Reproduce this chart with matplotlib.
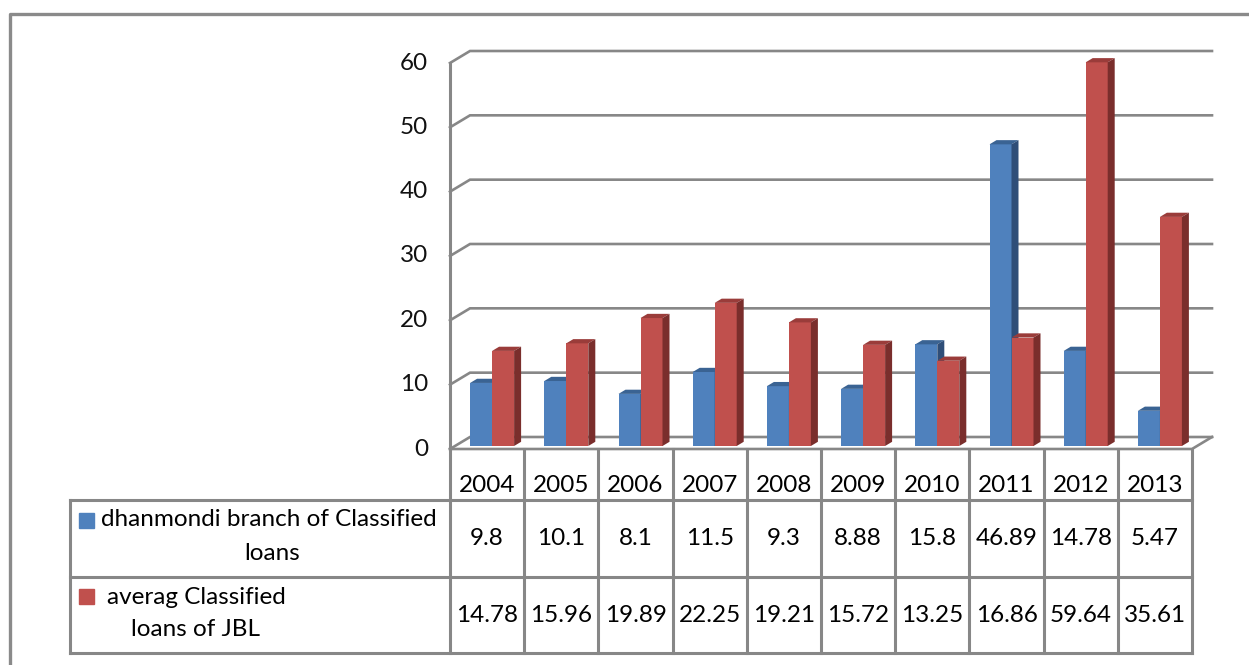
import matplotlib.pyplot as plt
import matplotlib.transforms as mtransforms
from matplotlib.patches import Polygon, Rectangle

years = ["2004", "2005", "2006", "2007", "2008", "2009", "2010", "2011", "2012", "2013"]
branch = [9.8, 10.1, 8.1, 11.5, 9.3, 8.88, 15.8, 46.89, 14.78, 5.47]
jbl = [14.78, 15.96, 19.89, 22.25, 19.21, 15.72, 13.25, 16.86, 59.64, 35.61]
branch_text = ["9.8", "10.1", "8.1", "11.5", "9.3", "8.88", "15.8", "46.89", "14.78", "5.47"]
jbl_text = ["14.78", "15.96", "19.89", "22.25", "19.21", "15.72", "13.25", "16.86", "59.64", "35.61"]
branch_label = ["dhanmondi branch of Classified", "loans"]
jbl_label = ["averag Classified", "loans of JBL"]
yticks = [0, 10, 20, 30, 40, 50, 60]

plt.rcParams["font.family"] = ["Lato", "DejaVu Sans"]
FS = 17.5

blue = ("#4F81BD", "#3A6393", "#2F4E78")
red = ("#C0504D", "#9A3C3A", "#7A2E2C")
grid = "#878787"

W, H = 1249, 665
fig = plt.figure(figsize=(W / 100, H / 100), dpi=100)

# background axes in pixel units for frame and table
bg = fig.add_axes([0, 0, 1, 1])
bg.set_xlim(0, W)
bg.set_ylim(H, 0)
bg.axis("off")

# front plane of the 3D plot
X0, X1, Y0, Y60 = 450, 1192, 449, 63
ax = fig.add_axes([X0 / W, 1 - Y0 / H, (X1 - X0) / W, (Y0 - Y60) / H])
ax.set_xlim(-0.5, len(years) - 0.5)
ax.set_ylim(0, 60)
ax.axis("off")
pxx = (X1 - X0) / len(years)
pxy = (Y0 - Y60) / 60.0


def off(dx, dy):
    return dx / pxx, dy / pxy


wdx, wdy = off(20, 12)   # back wall
ox, oy = off(5, 3)       # bar front face
ddx, ddy = off(7, 4.2)   # bar depth
xl, xr = -0.5, len(years) - 0.5

# walls / gridlines
for v in yticks:
    ax.plot([xl, xl + wdx, xr + wdx], [v, v + wdy, v + wdy], color=grid, lw=1.9,
            clip_on=False, zorder=1, solid_joinstyle="miter")
ax.plot([xl, xl], [0, 60], color=grid, lw=2.2, clip_on=False, zorder=1)
ax.plot([xl, xr, xr + wdx], [0, 0, wdy], color=grid, lw=1.9, clip_on=False, zorder=1,
        solid_joinstyle="miter")

for v in yticks:
    ax.text(xl - 22 / pxx, v, str(v), ha="right", va="center", fontsize=FS, color="#111111")


def bar3d(x, w, h, cols, z):
    x = x + ox
    ax.bar(x, h, width=w, bottom=oy, align="edge", color=cols[0], zorder=z, clip_on=False,
           linewidth=0)
    top = [(x, oy + h), (x + ddx, oy + h + ddy), (x + w + ddx, oy + h + ddy), (x + w, oy + h)]
    side = [(x + w, oy), (x + w + ddx, oy + ddy), (x + w + ddx, oy + h + ddy), (x + w, oy + h)]
    ax.add_patch(Polygon(top, closed=True, color=cols[1], zorder=z, clip_on=False, lw=0))
    ax.add_patch(Polygon(side, closed=True, color=cols[2], zorder=z, clip_on=False, lw=0))


bw = 22 / pxx
for i in range(len(years)):
    bar3d(i - bw, bw, branch[i], blue, 3)
    bar3d(i, bw, jbl[i], red, 4)

# data table
tr = mtransforms.blended_transform_factory(ax.transData, bg.transData)
r0, r1, r2, r3 = Y0, 500, 577, 653
tl = 70
lk = dict(color=grid, lw=2.2, solid_capstyle="projecting", clip_on=False)
for y in (r1, r2, r3):
    bg.plot([tl, X1], [y, y], **lk)
bg.plot([tl, tl], [r1, r3], **lk)
for i in range(len(years) + 1):
    ax.plot([i - 0.5, i - 0.5], [r0, r3], transform=tr, **lk)

for i in range(len(years)):
    ax.text(i, 486, years[i], transform=tr, ha="center", va="center", fontsize=FS)
    ax.text(i, (r1 + r2) / 2, branch_text[i], transform=tr, ha="center", va="center", fontsize=FS)
    ax.text(i, (r2 + r3) / 2, jbl_text[i], transform=tr, ha="center", va="center", fontsize=FS)

bg.add_patch(Rectangle((79, 513), 15, 15, color=blue[0]))
bg.add_patch(Rectangle((79, 589), 15, 15, color=red[0]))
bg.text(101, 520, branch_label[0], ha="left", va="center", fontsize=FS)
bg.text(272, 553, branch_label[1], ha="center", va="center", fontsize=FS)
bg.text(107, 597, jbl_label[0], ha="left", va="center", fontsize=FS)
bg.text(131, 630, jbl_label[1], ha="left", va="center", fontsize=FS)

# outer chart frame
bg.plot([10, 10, W], [H, 14, 14], color="#8a8a8a", lw=2.4)

fig.savefig("out.png", dpi=100, facecolor="white")
